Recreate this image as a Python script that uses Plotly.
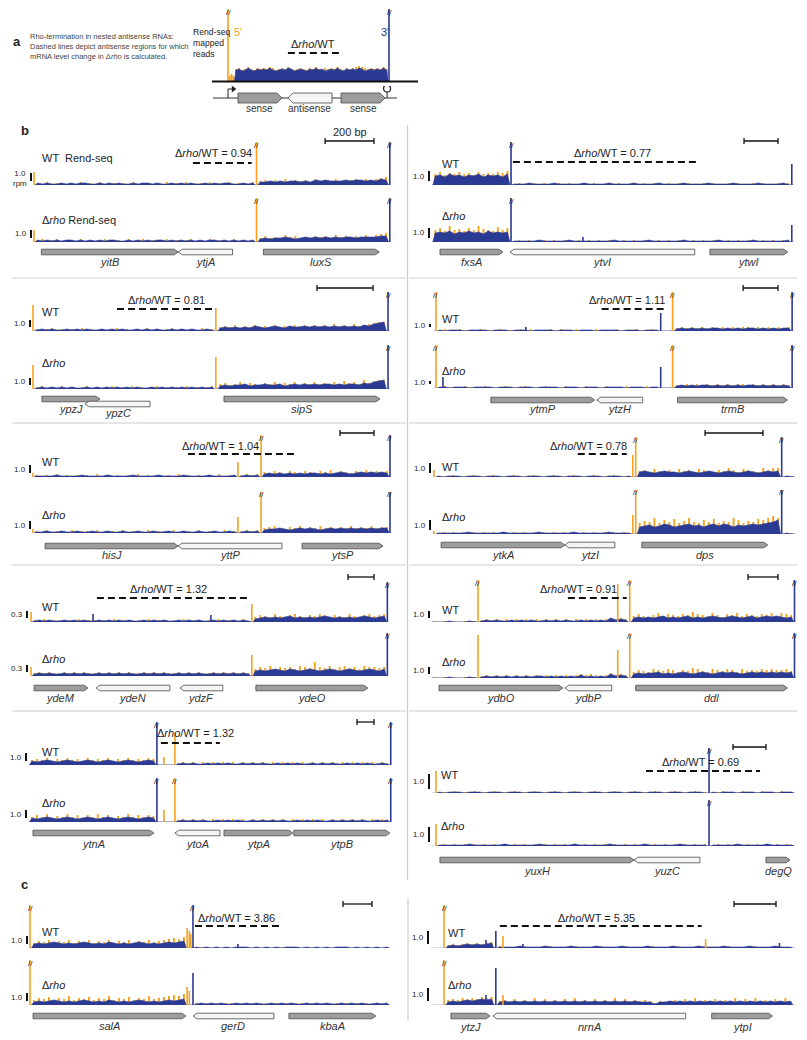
import plotly.graph_objects as go

# The page body has an 8px margin, so the figure is shifted by OFF and sized to fit.
OFF = 8
W, H = 807 - OFF, 1040 - OFF
ORANGE = "#F6A21D"
BLUE = "#2B3A92"
INK = "#1E1E1E"
FONT = "Liberation Sans, Arial, Helvetica, sans-serif"

# ======================= DATA =======================
# Heights in the signal strings are base-36 digits (one digit per bin, spread evenly
# across a segment); they are divided by the panel's pixels-per-rpm scale.
# Spikes: (position bp, height, strand colour o=5' b=3'); 999 = off-scale (clipped, "//").

# ---- panel a (schematic) ----
a_len = 1000
a_genes = [("sense", 62, 335, "+", 0), ("antisense", 372, 646, "-", 0), ("sense", 702, 975, "+", 0)]
a_region = (372, 708)
a_promoter = 0
a_terminator = 988
a_blue = [(40, 995, "bcabdbacbcbdbabcbdcabcbacbdbcabcbdbacbcbdcabcbcbdb")]
a_orange = [(5, 40, "575"), (40, 995, "cdbcecbdcdcedbcdcecbcdcbdcecbdcdcecbdcdefedcdcdcec")]
a_spikes = [(0, 999, "o"), (1000, 999, "b")]

# ---- b: yitB / ytjA / luxS ----
yitB_len = 1460
yitB_genes = [("yitB", 30, 590, "+", 0), ("ytjA", 590, 812, "-", 0), ("luxS", 938, 1412, "+", 0)]
yitB_region = (650, 890)
yitB_ratio = "0.94"
yitB_wt_blue = [(5, 905, "2121121212211212121121221211212121121212211212"), (915, 1450, "33434344343545444545545465")]
yitB_wt_orange = [(5, 905, "2131221213121312212131221213121312213121312213"), (915, 1450, "45354645453645464556465678")]
yitB_wt_spikes = [(0, 13, "o"), (910, 999, "o"), (1455, 999, "b")]
yitB_rho_blue = [(5, 905, "2121212212121212211212121221212121212212121212"), (915, 1450, "34344543454545454554555566")]
yitB_rho_orange = [(5, 905, "2312312213121231221312312213121231213122131212"), (915, 1450, "46454756454656475656575789")]
yitB_rho_spikes = [(0, 12, "o"), (910, 999, "o"), (1455, 999, "b")]

# ---- b: fxsA / ytvI / ytwI ----
fxsA_len = 2130
fxsA_genes = [("fxsA", 47, 417, "+", 0), ("ytvI", 459, 1546, "-", 0), ("ytwI", 1635, 2093, "+", 0)]
fxsA_region = (476, 1564)
fxsA_ratio = "0.77"
fxsA_wt_blue = [(5, 458, "9a8b9a8a9b8a9a8b"), (470, 2110, "11121111211111211112111121111211112111121111211112111121")]
fxsA_wt_orange = [(5, 458, "bdacbdbcadbcbdce"), (470, 2110, "12112121121211212112121121212112121211212112121121211212")]
fxsA_wt_spikes = [(465, 999, "b"), (2117, 21, "b")]
fxsA_rho_blue = [(5, 458, "9a9b8a9b9a8b9a9a"), (470, 2110, "11111211111211111111211111121111112111111211111121111112")]
fxsA_rho_orange = [(5, 458, "cebgcdbecgdcbfce"), (470, 2110, "12121121212112121212112121211212121121212112121211212121")]
fxsA_rho_spikes = [(465, 999, "b"), (888, 5, "b"), (2117, 17, "b")]

# ---- b: ypzJ / ypzC / sipS ----
ypzJ_len = 1275
ypzJ_genes = [("ypzJ", 32, 239, "+", 0), ("ypzC", 186, 418, "-", 1), ("sipS", 682, 1239, "+", 0)]
ypzJ_region = (300, 643)
ypzJ_ratio = "0.81"
ypzJ_wt_blue = [(5, 648, "121211212121121212112121211212121121"), (660, 1262, "3434343543454354454545454545465789")]
ypzJ_wt_orange = [(5, 648, "212312121312121231212131212312121312"), (660, 1262, "4546354645463546564656475657567899")]
ypzJ_wt_spikes = [(0, 26, "o"), (653, 23, "o"), (1268, 999, "b")]
ypzJ_rho_blue = [(5, 648, "121212121121212121212112121212121212"), (660, 1262, "3434453445445345454545545455465789")]
ypzJ_rho_orange = [(5, 648, "231213121231212312131212312121312123"), (660, 1262, "5645736546574657465756475867596899")]
ypzJ_rho_spikes = [(0, 24, "o"), (653, 32, "o"), (1268, 999, "b")]

# ---- b: ytmP / ytzH / trmB ----
ytmP_len = 2060
ytmP_genes = [("ytmP", 331, 925, "+", 0), ("ytzH", 937, 1200, "-", 0), ("trmB", 1400, 2028, "+", 0)]
ytmP_region = (965, 1336)
ytmP_ratio = "1.11"
ytmP_wt_blue = [(25, 1295, "10111011110111011101111011101110111101110111"), (1380, 2050, "23232323323232332323233")]
ytmP_wt_orange = [(25, 1295, "12112111211121112121112121121112111211121121"), (1380, 2050, "34343434343434434343434")]
ytmP_wt_spikes = [(17, 999, "o"), (531, 4, "b"), (1303, 18, "b"), (1371, 999, "o"), (2055, 999, "b")]
ytmP_rho_blue = [(25, 1295, "11011101111011101110111101110111011110111011"), (1380, 2050, "23232332323232332323232")]
ytmP_rho_orange = [(25, 1295, "12111211121112111211121112111211121112111211"), (1380, 2050, "33434343434344343434343")]
ytmP_rho_spikes = [(17, 999, "o"), (57, 11, "b"), (1303, 21, "b"), (1371, 999, "o"), (2055, 999, "b")]

# ---- b: hisJ / yttP / ytsP ----
hisJ_len = 2105
hisJ_genes = [("hisJ", 71, 853, "+", 0), ("yttP", 853, 1464, "-", 0), ("ytsP", 1582, 2058, "+", 0)]
hisJ_region = (911, 1546)
hisJ_ratio = "1.04"
hisJ_wt_blue = [(5, 1200, "1111211112111121111211112111121111211112"), (1210, 1335, "1212"), (1345, 2095, "3434343434434345434545454")]
hisJ_wt_orange = [(5, 1200, "2121312121213121212131212121312121213121"), (1210, 1335, "2323"), (1345, 2095, "5465365465465746546575656")]
hisJ_wt_spikes = [(0, 4, "o"), (1205, 15, "o"), (1341, 999, "o"), (2099, 999, "b")]
hisJ_rho_blue = [(5, 1200, "1121121121121121121121121121121121121121"), (1210, 1335, "1212"), (1345, 2095, "3445434545434545454545455")]
hisJ_rho_orange = [(5, 1200, "2131221312213122131221312213122131221312"), (1210, 1335, "2323"), (1345, 2095, "5675465746575646575657566")]
hisJ_rho_spikes = [(0, 4, "o"), (1205, 16, "o"), (1341, 999, "o"), (2099, 999, "b")]

# ---- b: ytkA / ytzI / dps ----
ytkA_len = 1250
ytkA_genes = [("ytkA", 28, 455, "+", 0), ("ytzI", 455, 628, "-", 0), ("dps", 721, 1156, "+", 0)]
ytkA_region = (500, 669)
ytkA_ratio = "0.78"
ytkA_wt_blue = [(10, 685, "101110111011101110111011101110111011101"), (705, 1200, "56545655456545654565456545656"), (1210, 1250, "10")]
ytkA_wt_orange = [(10, 685, "111211121112111211121112111211121112111"), (705, 1200, "67586475867587657697587659799"), (1210, 1250, "11")]
ytkA_wt_spikes = [(3, 7, "o"), (690, 22, "o"), (700, 999, "o"), (1204, 999, "b")]
ytkA_rho_blue = [(10, 685, "111111211111121111112111111211111121111"), (705, 1200, "78978a9789a8979a8a97989a9abce"), (1210, 1250, "10")]
ytkA_rho_orange = [(10, 685, "121212121212121212121212121212121212121"), (705, 1200, "bdcgbecfbdgcbecfbdcgebdcfegig"), (1210, 1250, "11")]
ytkA_rho_spikes = [(3, 3, "o"), (690, 19, "o"), (700, 999, "o"), (1204, 999, "b")]

# ---- b: ydeM / ydeN / ydzF / ydeO ----
ydeM_len = 2755
ydeM_genes = [("ydeM", 31, 446, "+", 0), ("ydeN", 508, 1077, "-", 0), ("ydzF", 1154, 1484, "-", 0), ("ydeO", 1738, 2600, "+", 0)]
ydeM_region = (515, 1700)
ydeM_ratio = "1.32"
ydeM_wt_blue = [(15, 1700, "12121121212112121212112121211212121121212121"), (1715, 2745, "345454564545456545454565456")]
ydeM_wt_orange = [(15, 1700, "21312212131221213122121312212131221213122131"), (1715, 2745, "576586578657687576586578678")]
ydeM_wt_spikes = [(8, 10, "o"), (485, 8, "b"), (1392, 7, "b"), (1707, 18, "o"), (2750, 999, "b")]
ydeM_rho_blue = [(15, 1700, "23232232323223232323223232322323232232323232"), (1715, 2745, "565676576567656765676567657")]
ydeM_rho_orange = [(15, 1700, "34343343434334343434334343433434343343434343"), (1715, 2745, "798a79897a98e98a79a897a9989")]
ydeM_rho_spikes = [(8, 9, "o"), (1707, 21, "o"), (2750, 999, "b")]

# ---- b: ydbO / ydbP / ddl ----
ydbO_len = 2430
ydbO_genes = [("ydbO", 47, 874, "+", 0), ("ydbP", 887, 1200, "-", 0), ("ddl", 1360, 2373, "+", 0)]
ydbO_region = (907, 1300)
ydbO_ratio = "0.91"
ydbO_wt_blue = [(0, 300, "000100010"), (315, 1310, "121211212121121212112121214232"), (1330, 2415, "454545645456454565456545645656545")]
ydbO_wt_orange = [(0, 300, "101010101"), (315, 1310, "232323132323232313232323234343"), (1330, 2415, "686579687687a87697587968768796987")]
ydbO_wt_spikes = [(307, 999, "o"), (1240, 38, "o"), (1320, 999, "o"), (2420, 999, "b")]
ydbO_rho_blue = [(0, 300, "000100010"), (315, 1310, "121212121212212121213121214232"), (1330, 2415, "454556454565456545656545656565656")]
ydbO_rho_orange = [(0, 300, "101010101"), (315, 1310, "232323132323232323234343235343"), (1330, 2415, "687698798687a97698798697879898897")]
ydbO_rho_spikes = [(307, 43, "o"), (1240, 28, "o"), (1320, 999, "o"), (2420, 999, "b")]

# ---- b: ytnA / ytoA / ytpA / ytpB ----
ytnA_len = 4260
ytnA_genes = [("ytnA", 47, 1470, "+", 0), ("ytoA", 1717, 2247, "-", 0), ("ytpA", 2294, 3105, "+", 0), ("ytpB", 3117, 4246, "+", 0)]
ytnA_region = (1552, 2246)
ytnA_ratio = "1.32"
ytnA_wt_blue = [(5, 1495, "4345434543454345434543454"), (1510, 1700, "000"), (1725, 4245, "1212112121211212121121212112121211212121121")]
ytnA_wt_orange = [(5, 1495, "5657465756475657465756576"), (1510, 1700, "000"), (1725, 4245, "2323132323231323232313232323132323231323232")]
ytnA_wt_spikes = [(1505, 999, "b"), (1588, 8, "o"), (1717, 32, "o"), (4257, 999, "b")]
ytnA_rho_blue = [(5, 1495, "4345434543454345434543454"), (1510, 1700, "000"), (1725, 4245, "1212121121212112121212112121211212121211212")]
ytnA_rho_orange = [(5, 1495, "5758465857475857465857576"), (1510, 1700, "000"), (1725, 4245, "2323231323232313232323132323231323232313232")]
ytnA_rho_spikes = [(1505, 999, "b"), (1588, 12, "o"), (1717, 999, "o"), (4257, 999, "b")]

# ---- b: yuxH / yuzC / degQ ----
yuxH_len = 2200
yuxH_genes = [("yuxH", 48, 1224, "+", 0), ("yuzC", 1224, 1624, "-", 0), ("degQ", 2024, 2170, "+", 0)]
yuxH_region = (1297, 1988)
yuxH_ratio = "0.69"
yuxH_wt_blue = [(30, 1670, "101110111011101110111011101110111011101110111011101110"), (1690, 2195, "10111011101110111")]
yuxH_wt_orange = [(30, 1670, "111211121112111211121112111211121112111211121112111211"), (1690, 2195, "11211121112111211")]
yuxH_wt_spikes = [(24, 22, "o"), (1679, 999, "b")]
yuxH_rho_blue = [(30, 1670, "111111211111121111112111111211111121111112111111211111"), (1690, 2195, "11111211111211111")]
yuxH_rho_orange = [(30, 1670, "121212121212121212121212121212121212121212121212121212"), (1690, 2195, "12121212121212121")]
yuxH_rho_spikes = [(24, 22, "o"), (1679, 999, "b")]

# ---- c: salA / gerD / kbaA ----
salA_len = 2485
salA_genes = [("salA", 21, 1076, "+", 0), ("gerD", 1125, 1684, "-", 0), ("kbaA", 1787, 2387, "+", 0)]
salA_region = (1139, 1746)
salA_ratio = "3.86"
salA_wt_blue = [(10, 1080, "4545654545654546545456545456567"), (1130, 2480, "101010101110101010111010101011101010101")]
salA_wt_orange = [(10, 1080, "5768576857685768576857686789a9b"), (1130, 2480, "010000100000100001000001000010000010000")]
salA_wt_spikes = [(0, 999, "o"), (1085, 20, "o"), (1100, 17, "o"), (1110, 14, "o"), (1125, 999, "b"), (1435, 4, "b")]
salA_rho_blue = [(10, 1080, "3434543434543435434345434345456"), (1130, 2480, "121212112121211212121121212112121211212")]
salA_rho_orange = [(10, 1080, "5768576957685769576857696789a9b"), (1130, 2480, "212121221212122121212212121221212122121")]
salA_rho_spikes = [(0, 999, "o"), (1085, 18, "o"), (1100, 14, "o"), (1125, 32, "b")]

# ---- c: ytzJ / nrnA / ytpI ----
nrnA_len = 1735
nrnA_genes = [("ytzJ", 95, 281, "+", 0), ("nrnA", 295, 1214, "-", 0), ("ytpI", 1338, 1628, "+", 0)]
nrnA_region = (328, 1290)
nrnA_ratio = "5.35"
nrnA_wt_blue = [(70, 300, "2323434345"), (315, 1725, "1111211112111121111211112111121111211112111121111211112111")]
nrnA_wt_orange = [(70, 300, "3434545456"), (315, 1725, "2111121111211112111121111211112111121111211112111121111211")]
nrnA_wt_spikes = [(62, 999, "o"), (262, 8, "b"), (309, 17, "b"), (343, 12, "o"), (438, 4, "b"), (1309, 9, "o"), (1661, 5, "b")]
nrnA_rho_blue = [(70, 300, "3434545656"), (315, 1725, "34343434343434343434343434343331334343434343434343434343434")]
nrnA_rho_orange = [(70, 300, "5657676878"), (315, 1725, "45464547464546474546454746454542434546474546454746474546474")]
nrnA_rho_spikes = [(62, 999, "o"), (262, 10, "b"), (309, 37, "b"), (343, 10, "o")]

# ======================= LAYOUT (reference pixels) =======================
panels = [
    dict(L=yitB_len, genes=yitB_genes, region=yitB_region, ratio=yitB_ratio,
         wt=(yitB_wt_blue, yitB_wt_orange, yitB_wt_spikes), rho=(yitB_rho_blue, yitB_rho_orange, yitB_rho_spikes),
         x0=34, x1=391, wt_y=(142, 185), rho_y=(198, 242), gy=252, gly=262, rpm_px=8, scale=1.0,
         dash_y=163, lab=(213, 153), sb=(374, 141), wt_lab=(41, 158), rho_lab=(41, 220), first=True),
    dict(L=fxsA_len, genes=fxsA_genes, region=fxsA_region, ratio=fxsA_ratio,
         wt=(fxsA_wt_blue, fxsA_wt_orange, fxsA_wt_spikes), rho=(fxsA_rho_blue, fxsA_rho_orange, fxsA_rho_spikes),
         x0=432, x1=794, wt_y=(142, 185), rho_y=(198, 242), gy=252, gly=262, rpm_px=10, scale=1.0,
         dash_y=162, lab=(612, 153), sb=(778, 141), wt_lab=(441, 164), rho_lab=(441, 216)),
    dict(L=ypzJ_len, genes=ypzJ_genes, region=ypzJ_region, ratio=ypzJ_ratio,
         wt=(ypzJ_wt_blue, ypzJ_wt_orange, ypzJ_wt_spikes), rho=(ypzJ_rho_blue, ypzJ_rho_orange, ypzJ_rho_spikes),
         x0=33, x1=390, wt_y=(292, 331), rho_y=(345, 389), gy=399, gly=409, rpm_px=7, scale=1.0,
         dash_y=309, lab=(166, 300), sb=(373, 288), wt_lab=(41, 312), rho_lab=(41, 363)),
    dict(L=ytmP_len, genes=ytmP_genes, region=ytmP_region, ratio=ytmP_ratio,
         wt=(ytmP_wt_blue, ytmP_wt_orange, ytmP_wt_spikes), rho=(ytmP_rho_blue, ytmP_rho_orange, ytmP_rho_spikes),
         x0=433, x1=793, wt_y=(292, 331), rho_y=(345, 388), gy=400, gly=409, rpm_px=3, scale=1.0,
         dash_y=309, lab=(627, 300), sb=(778, 288), wt_lab=(441, 319), rho_lab=(441, 371)),
    dict(L=hisJ_len, genes=hisJ_genes, region=hisJ_region, ratio=hisJ_ratio,
         wt=(hisJ_wt_blue, hisJ_wt_orange, hisJ_wt_spikes), rho=(hisJ_rho_blue, hisJ_rho_orange, hisJ_rho_spikes),
         x0=33, x1=391, wt_y=(435, 477), rho_y=(492, 533), gy=546, gly=555, rpm_px=8, scale=1.0,
         dash_y=454, lab=(220, 446), sb=(374, 433), wt_lab=(41, 462), rho_lab=(41, 515)),
    dict(L=ytkA_len, genes=ytkA_genes, region=ytkA_region, ratio=ytkA_ratio,
         wt=(ytkA_wt_blue, ytkA_wt_orange, ytkA_wt_spikes), rho=(ytkA_rho_blue, ytkA_rho_orange, ytkA_rho_spikes),
         x0=433, x1=795, wt_y=(437, 477), rho_y=(490, 534), gy=545, gly=555, rpm_px=10, scale=1.0,
         dash_y=454, lab=(588, 446), sb=(763, 433), wt_lab=(441, 467), rho_lab=(441, 517)),
    dict(L=ydeM_len, genes=ydeM_genes, region=ydeM_region, ratio=ydeM_ratio,
         wt=(ydeM_wt_blue, ydeM_wt_orange, ydeM_wt_spikes), rho=(ydeM_rho_blue, ydeM_rho_orange, ydeM_rho_spikes),
         x0=30, x1=388, wt_y=(582, 622), rho_y=(633, 676), gy=688, gly=698, rpm_px=23, scale=0.3,
         dash_y=598, lab=(168, 589), sb=(374, 577), wt_lab=(41, 607), rho_lab=(41, 659)),
    dict(L=ydbO_len, genes=ydbO_genes, region=ydbO_region, ratio=ydbO_ratio,
         wt=(ydbO_wt_blue, ydbO_wt_orange, ydbO_wt_spikes), rho=(ydbO_rho_blue, ydbO_rho_orange, ydbO_rho_spikes),
         x0=432, x1=796, wt_y=(580, 622), rho_y=(633, 678), gy=688, gly=698, rpm_px=7, scale=1.0,
         dash_y=598, lab=(578, 589), sb=(778, 577), wt_lab=(441, 610), rho_lab=(441, 662)),
    dict(L=ytnA_len, genes=ytnA_genes, region=ytnA_region, ratio=ytnA_ratio,
         wt=(ytnA_wt_blue, ytnA_wt_orange, ytnA_wt_spikes), rho=(ytnA_rho_blue, ytnA_rho_orange, ytnA_rho_spikes),
         x0=29, x1=391, wt_y=(722, 765), rho_y=(778, 822), gy=833, gly=844, rpm_px=8, scale=1.0,
         dash_y=743, lab=(195, 733), sb=(374, 722), wt_lab=(41, 752), rho_lab=(41, 803)),
    dict(L=yuxH_len, genes=yuxH_genes, region=yuxH_region, ratio=yuxH_ratio,
         wt=(yuxH_wt_blue, yuxH_wt_orange, yuxH_wt_spikes), rho=(yuxH_rho_blue, yuxH_rho_orange, yuxH_rho_spikes),
         x0=432, x1=795, wt_y=(748, 793), rho_y=(800, 846), gy=860, gly=871, rpm_px=15, scale=1.0,
         dash_y=771, lab=(700, 762), sb=(766, 747), wt_lab=(440, 775), rho_lab=(440, 826)),
    dict(L=salA_len, genes=salA_genes, region=salA_region, ratio=salA_ratio,
         wt=(salA_wt_blue, salA_wt_orange, salA_wt_spikes), rho=(salA_rho_blue, salA_rho_orange, salA_rho_spikes),
         x0=30, x1=390, wt_y=(905, 948), rho_y=(960, 1005), gy=1016, gly=1026, rpm_px=8, scale=1.0,
         dash_y=926, lab=(236, 918), sb=(372, 904), wt_lab=(41, 932), rho_lab=(41, 985)),
    dict(L=nrnA_len, genes=nrnA_genes, region=nrnA_region, ratio=nrnA_ratio,
         wt=(nrnA_wt_blue, nrnA_wt_orange, nrnA_wt_spikes), rho=(nrnA_rho_blue, nrnA_rho_orange, nrnA_rho_spikes),
         x0=431, x1=795, wt_y=(905, 948), rho_y=(960, 1005), gy=1016, gly=1027, rpm_px=13, scale=1.0,
         dash_y=926, lab=(596, 918), sb=(776, 904), wt_lab=(447, 933), rho_lab=(447, 985)),
]

# ======================= BUILD =======================
fig = go.Figure()
annotations, shapes, axes = [], [], {}
count = [0]


def px(x):
    return (x - OFF) / W


def py(y):
    return 1 - (y - OFF) / H


def new_axes(xlo, xhi, ytop, ybot, xrange, yrange):
    count[0] += 1
    n = count[0]
    s = "" if n == 1 else str(n)
    axes["xaxis" + s] = dict(domain=[max(0, px(xlo)), min(1, px(xhi))], range=xrange, visible=False,
                             fixedrange=True, anchor="y" + s)
    axes["yaxis" + s] = dict(domain=[max(0, py(ybot)), min(1, py(ytop))], range=yrange, visible=False,
                             fixedrange=True, anchor="x" + s)
    return "x" + s, "y" + s


def text(x, y, s, size=11, color=INK, xanchor="left", family=FONT, yanchor="middle"):
    annotations.append(dict(x=px(x), y=py(y), xref="paper", yref="paper", text=s, showarrow=False,
                            font=dict(family=family, size=size, color=color),
                            xanchor=xanchor, yanchor=yanchor, borderpad=0))


def pline(x0, y0, x1, y1, color=INK, width=1.0, dash=None):
    shapes.append(dict(type="line", xref="paper", yref="paper", x0=px(x0), y0=py(y0), x1=px(x1),
                       y1=py(y1), line=dict(color=color, width=width, dash=dash), layer="above"))


def series(segments, rpm_px):
    xs, ys = [], []
    for s, e, d in segments:
        w = (e - s) / len(d)
        xs.append(s)
        ys.append(0)
        for i, c in enumerate(d):
            xs.append(s + (i + 0.5) * w)
            ys.append(int(c, 36) / rpm_px)
        xs.append(e)
        ys.append(0)
    return xs, ys


def sticks(segments, rpm_px):
    xs, ys = [], []
    for s, e, d in segments:
        w = (e - s) / len(d)
        for i, c in enumerate(d):
            x = s + (i + 0.5) * w
            xs += [x, x, None]
            ys += [0, int(c, 36) / rpm_px, None]
    return xs, ys


def draw_track(xa, ya, blue, orange, spikes, rpm_px, L, ymax):
    fig.add_trace(go.Scatter(x=[0, L], y=[0, 0], mode="lines", line=dict(color="#B4B9D6", width=1),
                             xaxis=xa, yaxis=ya))
    xs, ys = sticks(orange, rpm_px)
    fig.add_trace(go.Scatter(x=xs, y=ys, mode="lines", line=dict(color=ORANGE, width=1.9),
                             xaxis=xa, yaxis=ya))
    xs, ys = series(blue, rpm_px)
    fig.add_trace(go.Scatter(x=xs, y=ys, mode="lines", fill="tozeroy", fillcolor=BLUE,
                             line=dict(color=BLUE, width=0.6), xaxis=xa, yaxis=ya))
    for code, col in (("o", ORANGE), ("b", BLUE)):
        xs, ys = [], []
        for p, h, c in spikes:
            if c == code:
                xs += [p, p, None]
                ys += [0, h / rpm_px, None]
        if xs:
            fig.add_trace(go.Scatter(x=xs, y=ys, mode="lines", line=dict(color=col, width=1.6),
                                     xaxis=xa, yaxis=ya))
    for p, h, c in spikes:
        if h / rpm_px > ymax:
            annotations.append(dict(x=p, y=ymax, xref=xa, yref=ya, text="//", showarrow=False,
                                    font=dict(family=FONT, size=8, color="#111"),
                                    xanchor="center", yanchor="middle", yshift=-3, borderpad=0))


def draw_genes(xa, ya, genes, bpp, half, tip_px, label_y, italic=True, size=11):
    for name, s, e, strand, lane in genes:
        yc = -5 * lane
        tip = tip_px * bpp
        if strand == "+":
            xs = [s, e - tip, e, e - tip, s, s]
            fill = "#9D9D9D"
        else:
            xs = [e, s + tip, s, s + tip, e, e]
            fill = "#F4F4F4"
        ys = [yc - half, yc - half, yc, yc + half, yc + half, yc - half]
        fig.add_trace(go.Scatter(x=xs, y=ys, mode="lines", fill="toself", fillcolor=fill,
                                 line=dict(color="#4A4A4A", width=0.8), xaxis=xa, yaxis=ya))
        label = f"<i>{name}</i>" if italic else name
        annotations.append(dict(x=(s + e) / 2, y=py(label_y + 4 * lane), xref=xa, yref="paper",
                                text=label, showarrow=False,
                                font=dict(family=FONT, size=size, color="#333"),
                                xanchor="center", yanchor="middle", borderpad=0))


for P in panels:
    L, x0, x1, rpm = P["L"], P["x0"], P["x1"], P["rpm_px"]
    bpp = L / (x1 - x0)
    xr = [-3 * bpp, L + 3 * bpp]
    first_axes = None
    for key, ykey, labkey in (("wt", "wt_y", "wt_lab"), ("rho", "rho_y", "rho_lab")):
        top, base = P[ykey]
        ymax = (base - top) / rpm
        xa, ya = new_axes(x0 - 3, x1 + 3, top, base, xr, [0, ymax])
        blue, orange, spikes = P[key]
        draw_track(xa, ya, blue, orange, spikes, rpm, L, ymax)
        if key == "wt":
            first_axes = (xa, ya)
        xb, yb = x0 - 3, base - 4
        yt = yb - P["scale"] * rpm
        pline(xb, yb, xb, yt, "#111", 2)
        lab = f"{P['scale']:.1f}"
        if P.get("first") and key == "wt":
            text(xb - 3, (yb + yt) / 2 + 2, lab + "<br>rpm", size=8, xanchor="right")
        else:
            text(xb - 3, (yb + yt) / 2, lab, size=8, xanchor="right")
        lx, ly = P[labkey]
        if P.get("first"):
            s = "WT  Rend-seq" if key == "wt" else "Δ<i>rho</i> Rend-seq"
        else:
            s = "WT" if key == "wt" else "Δ<i>rho</i>"
        text(lx, ly, s, size=11)
    xa, ya = first_axes
    wtop, wbase = P["wt_y"]
    dy = (wbase - P["dash_y"]) / rpm
    r0, r1 = P["region"]
    fig.add_trace(go.Scatter(x=[r0, r1], y=[dy, dy], mode="lines",
                             line=dict(color="#111", width=2, dash="7px,4px"), xaxis=xa, yaxis=ya))
    text(P["lab"][0], P["lab"][1], f"Δ<i>rho</i>/WT = {P['ratio']}", size=11, xanchor="center")
    gy = P["gy"]
    gxa, gya = new_axes(x0 - 3, x1 + 3, gy - 10, gy + 10, xr, [-10, 10])
    draw_genes(gxa, gya, P["genes"], bpp, 2.8, 4, P["gly"])
    sbx, sby = P["sb"]
    ln = 200 / bpp
    pline(sbx - ln, sby, sbx, sby, "#111", 1.3)
    pline(sbx - ln, sby - 3, sbx - ln, sby + 3, "#111", 1.3)
    pline(sbx, sby - 3, sbx, sby + 3, "#111", 1.3)
    if P.get("first"):
        text(sbx - ln / 2, sby - 9, "200 bp", size=11, xanchor="center")

# ---------------- panel a ----------------
ax0, ax1, atop, abase = 228, 389, 9, 81
a_bpp = a_len / (ax1 - ax0)
a_rpm = 1
a_ymax = (abase - atop) / a_rpm
xa, ya = new_axes(ax0 - 3, ax1 + 3, atop, abase, [-3 * a_bpp, a_len + 3 * a_bpp], [0, a_ymax])
draw_track(xa, ya, a_blue, a_orange, a_spikes, a_rpm, a_len, a_ymax)
fig.add_trace(go.Scatter(x=list(a_region), y=[(abase - 53) / a_rpm] * 2, mode="lines",
                         line=dict(color="#111", width=2, dash="7px,4px"), xaxis=xa, yaxis=ya))
pline(212, 81.5, 418, 81.5, "#111", 2.2)
gxlo, gxhi = 205, 420
gxa, gya = new_axes(gxlo, gxhi, 86, 110, [(gxlo - ax0) * a_bpp, (gxhi - ax0) * a_bpp], [-12, 12])
fig.add_trace(go.Scatter(x=[(213 - ax0) * a_bpp, (397 - ax0) * a_bpp], y=[0, 0], mode="lines",
                         line=dict(color="#333", width=1), xaxis=gxa, yaxis=gya))
fig.add_trace(go.Scatter(x=[a_promoter, a_promoter, a_promoter + 30], y=[0, 9, 9], mode="lines",
                         line=dict(color="#222", width=1), xaxis=gxa, yaxis=gya))
fig.add_trace(go.Scatter(x=[a_promoter + 33], y=[9], mode="markers",
                         marker=dict(symbol="triangle-right", size=6, color="#222"), xaxis=gxa, yaxis=gya))
fig.add_trace(go.Scatter(x=[a_terminator, a_terminator], y=[0, 6], mode="lines",
                         line=dict(color="#222", width=1), xaxis=gxa, yaxis=gya))
fig.add_trace(go.Scatter(x=[a_terminator], y=[9.5], mode="markers",
                         marker=dict(symbol="circle-open", size=7, color="#222", line=dict(width=1.2)),
                         xaxis=gxa, yaxis=gya))
draw_genes(gxa, gya, a_genes, a_bpp, 5, 5, 109, italic=False, size=10)

text(12, 41, "<b>a</b>", size=13)
text(29, 36, "Rho-termination in nested antisense RNAs:", size=7.5, color="#444")
text(29, 46.5, "Dashed lines depict antisense regions for which", size=7.5, color="#444")
text(29, 57, "mRNA level change in Δ<i>rho</i> is calculated.", size=7.5, color="#444")
text(192, 32, "Rend-seq", size=8.6, color="#222")
text(192, 43, "mapped", size=8.6, color="#222")
text(192, 54, "reads", size=8.6, color="#222")
text(233, 32, "5'", size=11, color=ORANGE)
text(380, 32, "3'", size=11, color=BLUE)
text(313, 44, "Δ<i>rho</i>/WT", size=11, xanchor="center")

text(20, 131, "<b>b</b>", size=13)
text(20, 884, "<b>c</b>", size=13)

SEP = "#CDCDCD"
pline(407.5, 125, 407.5, 880, SEP, 1.2)
for yy in (278, 423, 565, 711):
    pline(12, yy, 406, yy, SEP, 1.2)
    pline(409, yy, 797, yy, SEP, 1.2)
pline(408, 898, 408, 1020, SEP, 1.2)

fig.update_layout(width=W, height=H, margin=dict(l=0, r=0, t=0, b=0), showlegend=False,
                  paper_bgcolor="white", plot_bgcolor="rgba(0,0,0,0)", hovermode=False,
                  annotations=annotations, shapes=shapes, **axes)
fig.write_html("out.html")
